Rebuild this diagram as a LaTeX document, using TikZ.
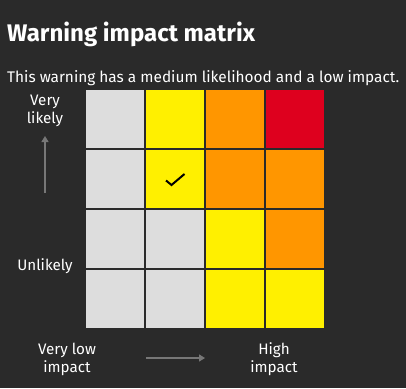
\documentclass[tikz,border=0pt]{standalone}
\usepackage{fontspec}
\setmainfont{Fira Sans}
\usetikzlibrary{arrows.meta}
\definecolor{bg}{HTML}{2A2A2A}
\definecolor{cgrey}{HTML}{DDDDDD}
\definecolor{cyellow}{HTML}{FFF000}
\definecolor{corange}{HTML}{FF9600}
\definecolor{cred}{HTML}{DE001E}
\definecolor{arrowgrey}{HTML}{777777}
\tikzset{
  cell/.style={minimum width=58pt,minimum height=58pt,inner sep=0pt,outer sep=0pt},
  lbl/.style={text=white,font=\fontsize{15.2}{18}\selectfont,align=center,inner sep=0pt},
  axis/.style={arrowgrey,line width=1.3pt,-{Triangle[length=6pt,width=7pt]}}
}
\begin{document}
\begin{tikzpicture}[x=1pt,y=-1pt]
\fill[bg] (0,0) rectangle (406,388);
\useasboundingbox (0,0) rectangle (406,388);
\node[anchor=base west,text=white,inner sep=0pt,font=\bfseries\fontsize{24}{28}\selectfont] (title) at (7,41) {Warning impact matrix};
\node[anchor=base west,text=white,inner sep=0pt,font=\fontsize{15.4}{18}\selectfont] (sub) at (7,82) {This warning has a medium likelihood and a low impact.};
% row 1 (top)
\node[cell,fill=cgrey,anchor=north west] (c11) at (86,90) {};
\node[cell,fill=cyellow,anchor=north west] (c12) at (146,90) {};
\node[cell,fill=corange,anchor=north west] (c13) at (206,90) {};
\node[cell,fill=cred,anchor=north west] (c14) at (266,90) {};
% row 2
\node[cell,fill=cgrey,anchor=north west] (c21) at (86,150) {};
\node[cell,fill=cyellow,anchor=north west] (c22) at (146,150) {};
\node[cell,fill=corange,anchor=north west] (c23) at (206,150) {};
\node[cell,fill=corange,anchor=north west] (c24) at (266,150) {};
% row 3
\node[cell,fill=cgrey,anchor=north west] (c31) at (86,210) {};
\node[cell,fill=cgrey,anchor=north west] (c32) at (146,210) {};
\node[cell,fill=cyellow,anchor=north west] (c33) at (206,210) {};
\node[cell,fill=corange,anchor=north west] (c34) at (266,210) {};
% row 4
\node[cell,fill=cgrey,anchor=north west] (c41) at (86,270) {};
\node[cell,fill=cgrey,anchor=north west] (c42) at (146,270) {};
\node[cell,fill=cyellow,anchor=north west] (c43) at (206,270) {};
\node[cell,fill=cyellow,anchor=north west] (c44) at (266,270) {};
% check mark
\draw[black,line width=2pt] ([xshift=-9pt,yshift=-1.5pt]c22.center) -- ([xshift=-3.5pt,yshift=-6pt]c22.center) -- ([xshift=9.5pt,yshift=5pt]c22.center);
% axis labels
\node[lbl] (vlikely) at (45,111) {Very\\likely};
\node[lbl] (unlikely) at (45,266) {Unlikely};
\coordinate (upstart) at (45,193);
\coordinate (upend) at (45,136);
\draw[axis] (upstart) -- (upend);
\node[lbl] (vlow) at (67,359) {Very low\\impact};
\node[lbl] (high) at (274,359) {High\\impact};
\coordinate (rstart) at (146,358);
\coordinate (rend) at (205,358);
\draw[axis] (rstart) -- (rend);
\end{tikzpicture}
\end{document}
